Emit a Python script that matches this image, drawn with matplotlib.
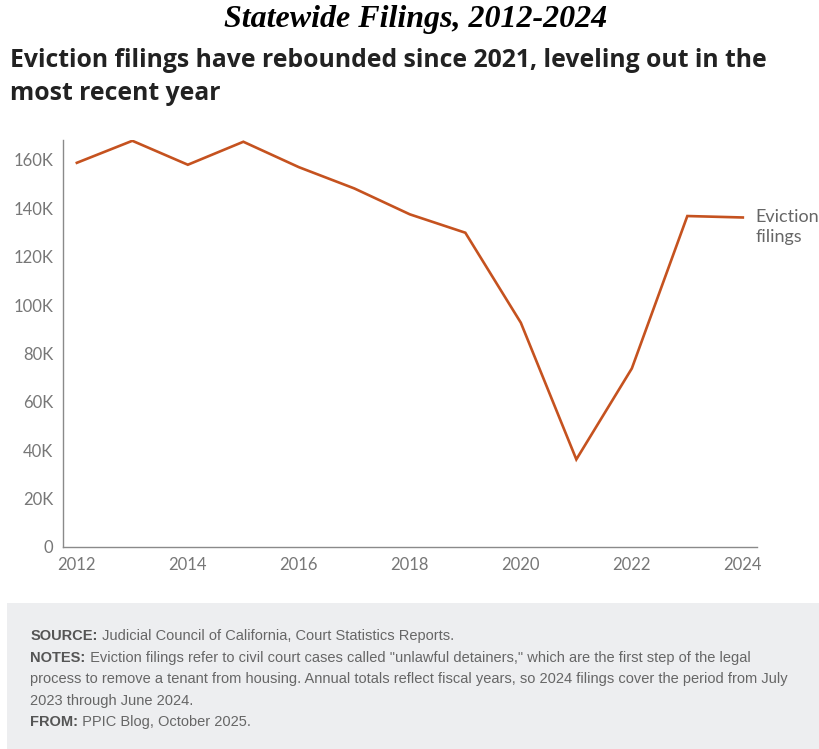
import matplotlib
matplotlib.use("Agg")
import matplotlib.pyplot as plt
from matplotlib.patches import Rectangle
from matplotlib.ticker import FuncFormatter

years = [2012, 2013, 2014, 2015, 2016, 2017, 2018, 2019, 2020, 2021, 2022, 2023, 2024]
filings = [158800, 167900, 158000, 167500, 157000, 148200, 137500, 129900, 92700, 36200, 73800, 136800, 136200]
x_ticks = [2012, 2014, 2016, 2018, 2020, 2022, 2024]
y_ticks = [0, 20000, 40000, 60000, 80000, 100000, 120000, 140000, 160000]

LINE_COLOR = "#c5521f"
TICK_COLOR = "#777777"
SANS = ["Lato", "DejaVu Sans"]
HEAD = ["Open Sans", "DejaVu Sans"]
NARROW = ["Liberation Sans Narrow", "Liberation Sans", "DejaVu Sans"]

fig = plt.figure(figsize=(8.2, 7.49), dpi=100)

# header
fig.text(0.507, 0.974, "Statewide Filings, 2012-2024", ha="center", va="center",
         family="Liberation Serif", weight="bold", style="italic", fontsize=23)
fig.text(0.012, 0.919, "Eviction filings have rebounded since 2021, leveling out in the",
         ha="left", va="center", family=HEAD, weight="bold", fontsize=17.8, color="#222222")
fig.text(0.012, 0.875, "most recent year",
         ha="left", va="center", family=HEAD, weight="bold", fontsize=17.8, color="#222222")

ax = fig.add_axes([0.0768, 0.2697, 0.846, 0.5433])
ax.plot(years, filings, color=LINE_COLOR, lw=1.9, solid_joinstyle="miter")
ax.set_xlim(2011.75, 2024.25)
ax.set_ylim(0, 168200)
ax.set_xticks(x_ticks)
ax.set_yticks(y_ticks)
ax.yaxis.set_major_formatter(FuncFormatter(lambda v, p: "0" if v == 0 else f"{int(v / 1000)}K"))
for side in ["top", "right"]:
    ax.spines[side].set_visible(False)
for side in ["left", "bottom"]:
    ax.spines[side].set_color("#8a8a8a")
    ax.spines[side].set_linewidth(1.0)
ax.tick_params(length=0, colors=TICK_COLOR, labelsize=12, pad=7)
for lab in ax.get_xticklabels() + ax.get_yticklabels():
    lab.set_family(SANS)
ax.annotate("Eviction\nfilings", xy=(years[-1], filings[-1]), xytext=(9, 6),
            textcoords="offset points", ha="left", va="top", family=SANS,
            fontsize=13, color="#666666", linespacing=1.3, annotation_clip=False)

# footer box
fig.patches.append(Rectangle((0.009, 0.0), 0.991, 0.195, transform=fig.transFigure,
                             facecolor="#edeef0", edgecolor="none", zorder=0))

foot = [
    ("SOURCE:", " Judicial Council of California, Court Statistics Reports."),
    ("NOTES:", " Eviction filings refer to civil court cases called \"unlawful detainers,\" which are the first step of the legal"),
    ("", "process to remove a tenant from housing. Annual totals reflect fiscal years, so 2024 filings cover the period from July"),
    ("", "2023 through June 2024."),
    ("FROM:", " PPIC Blog, October 2025."),
]
y0 = 0.1455
dy = 0.0288
for i, (head, body) in enumerate(foot):
    y = y0 - i * dy
    if head:
        t = fig.text(0.037, y, head, ha="left", va="baseline", family=NARROW,
                     weight="bold", fontsize=10.5, color="#555555")
        fig.canvas.draw()
        bb = t.get_window_extent()
        x = bb.x1 / fig.bbox.width
    else:
        x = 0.037
    fig.text(x, y, body, ha="left", va="baseline", family=NARROW,
             fontsize=10.5, color="#666666")

fig.savefig("out.png", dpi=100)
